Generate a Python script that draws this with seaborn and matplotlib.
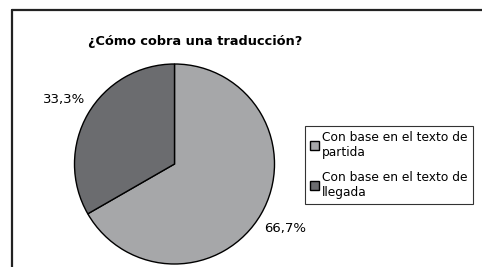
import matplotlib
matplotlib.use("Agg")
import matplotlib.pyplot as plt
from matplotlib.lines import Line2D
import seaborn as sns

# data
categories = ["Con base en el texto de\npartida", "Con base en el texto de\nllegada"]
shares = [66.7, 33.3]
title = "¿Cómo cobra una traducción?"

sns.set_style("white")
plt.rcParams['font.family'] = ['DejaVu Sans']
plt.rcParams['text.color'] = 'black'

colors = ["#a6a7a9", "#6b6c6f"]

fig = plt.figure(figsize=(4.82, 2.67), dpi=100)
W, H = 482, 267

# pie axes: centre ~(174.5, 164) px, radius ~100 px
cx, cy, r = 174.5, 164, 100
ax = fig.add_axes([(cx - r) / W, 1 - (cy + r) / H, 2 * r / W, 2 * r / H])
wedges, _, autotexts = ax.pie(
    shares, colors=colors, startangle=90, counterclock=False,
    autopct=lambda p: f"{p:.1f}%".replace(".", ","), pctdistance=1.28,
    wedgeprops=dict(edgecolor="black", linewidth=1.0),
    textprops=dict(fontsize=9.5, color="black"),
)
ax.set_xlim(-1, 1)
ax.set_ylim(-1, 1)
ax.set_axis_off()

fig.text(88 / W, 1 - 42 / H, title, fontsize=9.3, fontweight="bold",
         ha="left", va="center", color="black")

leg = fig.legend(wedges, categories, loc="upper left",
                 bbox_to_anchor=(305 / W, 1 - 126 / H), fontsize=8.8,
                 frameon=True, fancybox=False, edgecolor="black",
                 handlelength=0.75, handleheight=0.75, handletextpad=0.25,
                 borderpad=0.42, labelspacing=0.95, borderaxespad=0)
leg.get_frame().set_linewidth(0.8)
for t in leg.get_texts():
    t.set_color("black")

# outer chart frame (cropped screenshot: only left and top edges visible)
fig.add_artist(Line2D([12 / W, 12 / W], [0, 1 - 10 / H], color="#222222", lw=1.6))
fig.add_artist(Line2D([12 / W, 1], [1 - 10 / H, 1 - 10 / H], color="#222222", lw=1.6))

fig.savefig("out.png", dpi=100, facecolor="white")
